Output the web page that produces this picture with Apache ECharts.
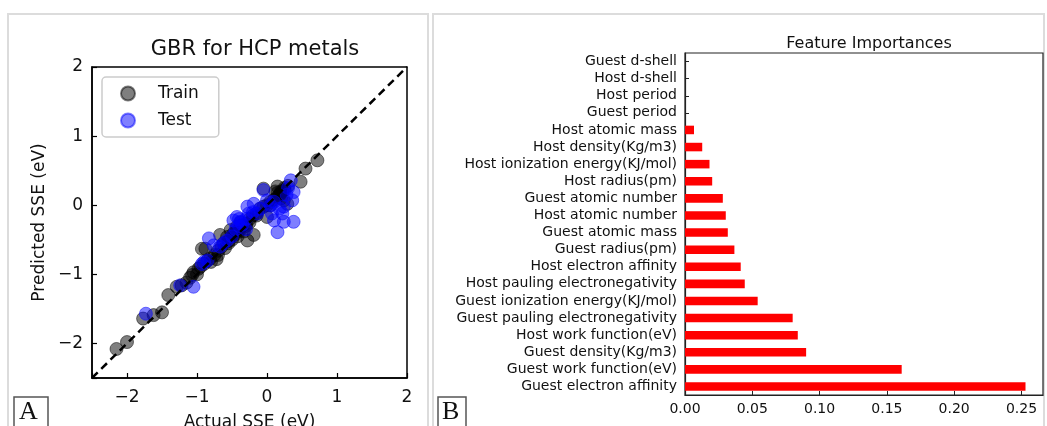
<!DOCTYPE html>
<html>
<head>
<meta charset="utf-8">
<script src="https://cdn.jsdelivr.net/npm/echarts@6/dist/echarts.min.js"></script>
<style>
  html, body { margin: 0; padding: 0; background: #fff; }
  #chart { width: 1047px; height: 426px; }
</style>
</head>
<body>
<div id="chart"></div>
<script>
// panel A: GBR parity plot (actual vs predicted SSE, eV)
var trainActual = [-2.15, -2.00, -1.77, -1.62, -1.50, -1.41, -1.29, -1.22, -1.07, -1.05, -0.95, -0.93, -0.88, -0.81, -0.67, -0.57, -0.52, -0.48, -0.43, -0.28, -0.19, -0.05, 0.00, 0.15, 0.19, 0.24, 0.29, 0.48, 0.55, 0.72,
  -1.10, -1.15, -0.98, -0.90, -0.85, -0.75, -0.70, -0.65, -0.60, -0.55, -0.50, -0.45, -0.40, -0.38, -0.35, -0.30, -0.25, -0.20, -0.15, -0.10, 0.05, 0.10, 0.15, 0.20, 0.22, 0.25, 0.18, -0.62, -0.72, -0.42, -0.33, 0.12, 0.30,
  -0.45, -0.40, -0.35, -0.30, -0.25, -0.15, -0.05, 0.00, 0.05, 0.15, 0.20, 0.25, -0.55, -0.50, -0.70, -0.80, -1.00]
var trainPred = [-2.08, -1.98, -1.64, -1.59, -1.55, -1.30, -1.18, -1.16, -1.01, -0.97, -0.89, -0.63, -0.63, -0.77, -0.43, -0.46, -0.36, -0.41, -0.31, -0.51, -0.43, 0.24, -0.17, 0.27, 0.17, 0.07, 0.02, 0.34, 0.53, 0.65,
  -1.05, -1.12, -0.92, -0.85, -0.80, -0.72, -0.66, -0.60, -0.62, -0.52, -0.45, -0.40, -0.37, -0.25, -0.30, -0.27, -0.20, -0.15, -0.12, -0.05, 0.00, 0.08, 0.12, 0.10, 0.20, 0.22, 0.15, -0.55, -0.78, -0.45, -0.38, 0.20, 0.28,
  -0.42, -0.35, -0.33, -0.30, -0.25, -0.15, -0.02, 0.00, 0.05, 0.18, 0.20, 0.25, -0.55, -0.50, -0.72, -0.82, -1.00]
var testActual = [-1.73, -1.24, -1.05, -0.93, -0.83, -0.76, -0.67, -0.57, -0.48, -0.43, -0.38, -0.28, -0.26, -0.19, -0.14, -0.05, 0.00, 0.07, 0.10, 0.15, 0.22, 0.24, 0.34, 0.38, 0.36, 0.38, 0.24,
  -0.85, -0.90, -0.62, -0.50, -0.45, -0.40, -0.35, -0.30, -0.20, -0.10, 0.05, 0.10, 0.30, -0.40, -0.30, 0.28, 0.18]
var testPred = [-1.57, -1.16, -1.18, -0.85, -0.48, -0.58, -0.60, -0.51, -0.22, -0.17, -0.24, -0.02, -0.12, 0.02, -0.12, 0.22, 0.07, -0.12, -0.22, -0.39, -0.12, -0.24, 0.36, 0.19, 0.07, -0.24, -0.02,
  -0.80, -0.82, -0.55, -0.45, -0.35, -0.30, -0.28, -0.20, -0.10, -0.05, 0.00, 0.05, 0.25, -0.20, -0.35, 0.15, -0.05]
var parityLine = [[-2.5, -2.5], [2, 2]]

// panel B: feature importances (top to bottom)
var features = ['Guest d-shell', 'Host d-shell', 'Host period', 'Guest period', 'Host atomic mass',
  'Host density(Kg/m3)', 'Host ionization energy(KJ/mol)', 'Host radius(pm)', 'Guest atomic number',
  'Host atomic number', 'Guest atomic mass', 'Guest radius(pm)', 'Host electron affinity',
  'Host pauling electronegativity', 'Guest ionization energy(KJ/mol)', 'Guest pauling electronegativity',
  'Host work function(eV)', 'Guest density(Kg/m3)', 'Guest work function(eV)', 'Guest electron affinity']
var importances = [0, 0, 0, 0, 0.0067, 0.0128, 0.0182, 0.0202, 0.0281, 0.0303, 0.0318, 0.0367, 0.0414,
  0.0444, 0.054, 0.080, 0.0838, 0.090, 0.161, 0.253]

function zip(a, b) {
  return a.map(function (v, i) { return [v, b[i]] })
}
function minusFmt(v) {
  if (!Number.isInteger(v)) return ''
  return v < 0 ? '\u2212' + Math.abs(v) : String(v)
}

var FONT = 'DejaVu Sans'
var chart = echarts.init(document.getElementById('chart'), null, { renderer: 'canvas' })

var parityAxis = function (extra, labelMargin) {
  return Object.assign({
    type: 'value',
    min: -2.5,
    max: 2,
    splitLine: { show: false },
    axisLine: { show: true, onZero: false, lineStyle: { color: '#000', width: 1.5 } },
    axisTick: { show: true, inside: true, length: 5, lineStyle: { color: '#000', width: 1.2 } },
    axisLabel: { color: '#111', fontSize: 17, fontFamily: FONT, margin: labelMargin, formatter: minusFmt },
    nameTextStyle: { color: '#111', fontSize: 17, fontFamily: FONT }
  }, extra)
}

chart.setOption({
  animation: false,
  textStyle: { fontFamily: FONT },
  title: [{
    text: 'GBR for HCP metals',
    left: 250,
    top: 34,
    textAlign: 'center',
    textStyle: { fontSize: 21, fontWeight: 'normal', color: '#111', fontFamily: FONT }
  }, {
    text: 'Feature Importances',
    left: 864,
    top: 31,
    textAlign: 'center',
    textStyle: { fontSize: 16, fontWeight: 'normal', color: '#111', fontFamily: FONT }
  }],
  legend: {
    orient: 'vertical',
    left: 102,
    top: 77,
    data: ['Train', 'Test'],
    icon: 'circle',
    itemWidth: 14,
    itemHeight: 14,
    itemGap: 10,
    padding: [8, 20, 8, 18],
    borderColor: '#ccc',
    borderWidth: 1.5,
    borderRadius: 4,
    backgroundColor: '#fff',
    textStyle: { fontSize: 17, color: '#111', fontFamily: FONT, padding: [0, 0, 0, 18] }
  },
  grid: [
    { left: 92, top: 67, width: 315, height: 311, show: true, borderColor: '#000', borderWidth: 1.5, outerBoundsMode: 'none', containLabel: false },
    { left: 685, top: 53, width: 358, height: 342, show: true, borderColor: '#222', borderWidth: 1.2, outerBoundsMode: 'none', containLabel: false }
  ],
  xAxis: [
    parityAxis({ gridIndex: 0, name: 'Actual SSE (eV)', nameLocation: 'middle', nameGap: 36 }, 11),
    {
      gridIndex: 1,
      type: 'value',
      min: 0,
      max: 0.266,
      interval: 0.05,
      splitLine: { show: false },
      axisLine: { show: true, lineStyle: { color: '#222', width: 1.2 } },
      axisTick: { show: true, inside: true, length: 4, lineStyle: { color: '#222' } },
      axisLabel: {
        color: '#111', fontSize: 14, fontFamily: FONT, margin: 7, showMaxLabel: false,
        formatter: function (v) { return v.toFixed(2) }
      }
    }
  ],
  yAxis: [
    parityAxis({ gridIndex: 0, name: 'Predicted SSE (eV)', nameLocation: 'middle', nameGap: 44, nameRotate: 90 }, 9),
    {
      gridIndex: 1,
      type: 'category',
      inverse: true,
      data: features,
      axisLine: { show: true, lineStyle: { color: '#222', width: 1.2 } },
      axisTick: { show: true, inside: true, length: 4, interval: 0, alignWithLabel: true, lineStyle: { color: '#222' } },
      axisLabel: { color: '#111', fontSize: 14, fontFamily: FONT, margin: 8, interval: 0 }
    }
  ],
  series: [
    {
      name: 'parity',
      type: 'line',
      xAxisIndex: 0,
      yAxisIndex: 0,
      data: parityLine,
      symbol: 'none',
      z: 5,
      lineStyle: { color: '#000', width: 2.5, type: [8, 5] }
    },
    {
      name: 'Train',
      type: 'scatter',
      xAxisIndex: 0,
      yAxisIndex: 0,
      data: zip(trainActual, trainPred),
      symbolSize: 13,
      itemStyle: { color: '#000', opacity: 0.5, borderColor: '#000', borderWidth: 1 }
    },
    {
      name: 'Test',
      type: 'scatter',
      xAxisIndex: 0,
      yAxisIndex: 0,
      data: zip(testActual, testPred),
      symbolSize: 13,
      itemStyle: { color: '#0000ff', opacity: 0.5, borderColor: '#0000ff', borderWidth: 1 }
    },
    {
      name: 'importance',
      type: 'bar',
      xAxisIndex: 1,
      yAxisIndex: 1,
      data: importances,
      barWidth: '50%',
      itemStyle: { color: '#ff0000' }
    }
  ],
  graphic: [
    { type: 'rect', shape: { x: 8, y: 14, width: 420, height: 430 }, style: { fill: 'none', stroke: '#dcdcdc', lineWidth: 2 }, z: -1 },
    { type: 'rect', shape: { x: 433, y: 14, width: 611, height: 430 }, style: { fill: 'none', stroke: '#dcdcdc', lineWidth: 2 }, z: -1 },
    { type: 'rect', shape: { x: 14, y: 397, width: 34, height: 40 }, style: { fill: '#fff', stroke: '#555', lineWidth: 1.5 } },
    { type: 'text', left: 19, top: 399, style: { text: 'A', font: '26px "Liberation Serif", "DejaVu Serif", serif', fill: '#111' } },
    { type: 'rect', shape: { x: 438, y: 397, width: 28, height: 40 }, style: { fill: '#fff', stroke: '#555', lineWidth: 1.5 } },
    { type: 'text', left: 442, top: 399, style: { text: 'B', font: '26px "Liberation Serif", "DejaVu Serif", serif', fill: '#111' } }
  ]
})
</script>
</body>
</html>
